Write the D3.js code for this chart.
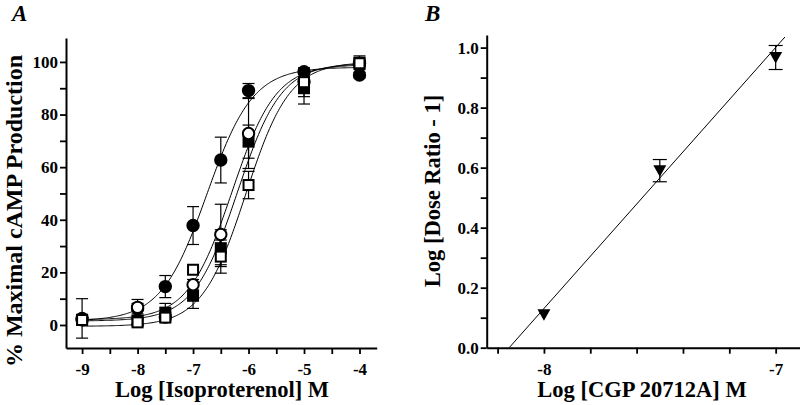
<!DOCTYPE html>
<html><head><meta charset="utf-8">
<script src="https://cdn.jsdelivr.net/npm/d3@7"></script>
<style>
body{margin:0;background:#fff;}
svg{display:block;}
text{font-family:"Liberation Serif","Times New Roman",serif;font-weight:bold;fill:#000;}
.tick text{font-size:17px !important;font-family:"Liberation Serif","Times New Roman",serif !important;font-weight:bold !important;}
</style></head><body>
<svg id="c" width="800" height="405"></svg>
<script>
// ---------- Panel A data ----------
const logIso = [-9, -8, -7.5, -7, -6.5, -6, -5, -4];
const filledCircle = [2.5, 6.2, 14.6, 37.8, 62.7, 89.1, 96.3, 95];
const filledCircleErr = [7.5, 2, 4.2, 7.2, 8.7, 2.7, 1, 1];
const openCircle = [2, 6.7, 3, 15.3, 34.4, 72.8, 92.5, 99.5];
const openCircleErr = [1, 3, 1, 2, 11.5, 13.3, 2, 1];
const filledSquare = [2, 1.5, 4.7, 11.1, 29.2, 69.7, 90, 99.7];
const filledSquareErr = [1, 1, 3.5, 4.8, 7, 6.3, 6, 2.6];
const openSquare = [1.9, 1, 2.8, 21, 26, 53.2, 92.3, 99.5];
const openSquareErr = [1, 1, 1, 1, 6.3, 5.2, 5.5, 1];
// fitted curve parameters: [bottom, top, logEC50, hill]
const fitFilledCircle = [1.5, 98, -6.75, 1.05];
const fitOpenCircle = [2, 99, -6.3, 1.1];
const fitFilledSquare = [1.5, 99.5, -6.2, 1.1];
const fitOpenSquare = [-0.5, 100, -6.05, 1.1];
const xTicksA = [-9, -8, -7, -6, -5, -4];
const yTicksA = [0, 20, 40, 60, 80, 100];

// ---------- Panel B data ----------
const logCGP = [-8, -7.5, -7];
const logDR = [0.11, 0.59, 0.967];
const logDRErr = [0, 0.037, 0.04];
const schildFit = [0.87, 8.15]; // slope, pA2
const schildRange = [-8.15, -6.96];
const xTicksB = [-8, -7];
const yTicksB = [0.0, 0.2, 0.4, 0.6, 0.8, 1.0];

const svg = d3.select("#c");

function styleAxis(g, isX){
  g.attr("font-family", null).attr("font-size", null);
  g.select(".domain").attr("stroke-width",2);
  g.selectAll(".tick line").attr("stroke-width",1.8);
  g.selectAll(".tick text").style("font-size","17px").style("font-weight","bold");
  if(isX) g.selectAll(".tick text").attr("dy","1.05em");
  else g.selectAll(".tick text").attr("x",-8);
}

// ===== Panel A =====
const xA = d3.scaleLinear().domain([-9.29, -3.69]).range([66, 376.7]);
const yA = d3.scaleLinear().domain([-8.75, 109.1]).range([348, 38]);
const gA = svg.append("g");

const axA = gA.append("g").attr("transform","translate(0,348)")
  .call(d3.axisBottom(xA).tickValues(d3.range(-9,-3.9,0.5)).tickSize(6).tickSizeOuter(0)
    .tickFormat(d => xTicksA.includes(d) ? String(d) : ""));
styleAxis(axA, true);
const ayA = gA.append("g").attr("transform","translate(66,0)")
  .call(d3.axisLeft(yA).tickValues(d3.range(0,101,10)).tickSize(6).tickSizeOuter(0)
    .tickFormat(d => yTicksA.includes(d) ? String(d) : ""));
styleAxis(ayA, false);

function logistic(p){ return x => p[0] + (p[1]-p[0])/(1+Math.pow(10,(p[2]-x)*p[3])); }
const xs = d3.range(-9, -3.999, 0.02);
[fitFilledCircle, fitOpenCircle, fitFilledSquare, fitOpenSquare].forEach(p => {
  const f = logistic(p);
  gA.append("path").datum(xs)
    .attr("d", d3.line().x(d => xA(d)).y(d => yA(f(d))))
    .attr("fill","none").attr("stroke","#000").attr("stroke-width",1);
});

function errBars(g, xsc, ysc, xv, yv, ev, cap){
  xv.forEach((x,i) => {
    const e = ev[i]; if(!e) return;
    const cx = xsc(x), y1 = ysc(yv[i]+e), y0 = ysc(yv[i]-e);
    g.append("line").attr("x1",cx).attr("x2",cx).attr("y1",y1).attr("y2",y0).attr("stroke","#000").attr("stroke-width",1.2);
    g.append("line").attr("x1",cx-cap).attr("x2",cx+cap).attr("y1",y1).attr("y2",y1).attr("stroke","#000").attr("stroke-width",1.2);
    g.append("line").attr("x1",cx-cap).attr("x2",cx+cap).attr("y1",y0).attr("y2",y0).attr("stroke","#000").attr("stroke-width",1.2);
  });
}
errBars(gA, xA, yA, logIso, filledSquare, filledSquareErr, 6);
errBars(gA, xA, yA, logIso, filledCircle, filledCircleErr, 6);
errBars(gA, xA, yA, logIso, openCircle, openCircleErr, 6);
errBars(gA, xA, yA, logIso, openSquare, openSquareErr, 6);

function squares(data, fill){
  gA.append("g").selectAll("rect").data(logIso).join("rect")
    .attr("x", d => xA(d)-5).attr("y", (d,i) => yA(data[i])-5)
    .attr("width",10).attr("height",10)
    .attr("fill",fill).attr("stroke","#000").attr("stroke-width",2);
}
function circles(data, fill){
  gA.append("g").selectAll("circle").data(logIso).join("circle")
    .attr("cx", d => xA(d)).attr("cy", (d,i) => yA(data[i])).attr("r",5.7)
    .attr("fill",fill).attr("stroke","#000").attr("stroke-width",2);
}
squares(filledSquare, "#000");
circles(filledCircle, "#000");
circles(openCircle, "#fff");
squares(openSquare, "#fff");

gA.append("text").attr("x", 222).attr("y", 397).attr("text-anchor","middle").attr("font-size",22.5)
  .text("Log [Isoproterenol] M");
gA.append("text").attr("transform","translate(22,211) rotate(-90)").attr("text-anchor","middle").attr("font-size",24)
  .text("% Maximal cAMP Production");
gA.append("text").attr("x", 12).attr("y", 21).attr("font-size",23).attr("font-style","italic").text("A");

// ===== Panel B =====
const xB = d3.scaleLinear().domain([-8.247, -6.895]).range([486.7, 800]);
const yB = d3.scaleLinear().domain([0, 1.042]).range([347.7, 35]);
const gB = svg.append("g");
const axB = gB.append("g").attr("transform","translate(0,347.7)")
  .call(d3.axisBottom(xB).tickValues(d3.range(-8.2,-6.95,0.2)).tickSize(6).tickSizeOuter(0)
    .tickFormat(d => xTicksB.some(t => Math.abs(t-d)<1e-6) ? String(Math.round(d)) : ""));
styleAxis(axB, true);
const ayB = gB.append("g").attr("transform","translate(486.7,0)")
  .call(d3.axisLeft(yB).tickValues(d3.range(0,1.01,0.1)).tickSize(6).tickSizeOuter(0)
    .tickFormat(d => yTicksB.some(t => Math.abs(t-d)<1e-6) ? d3.format(".1f")(d) : ""));
styleAxis(ayB, false);

gB.append("path").datum(schildRange)
  .attr("d", d3.line().x(d => xB(d)).y(d => yB(schildFit[0]*(d+schildFit[1]))))
  .attr("fill","none").attr("stroke","#000").attr("stroke-width",1);
errBars(gB, xB, yB, logCGP, logDR, logDRErr, 7);
gB.append("g").selectAll("path.tri").data(logCGP).join("path")
  .attr("transform",(d,i) => `translate(${xB(d)},${yB(logDR[i])})`)
  .attr("d","M-6.5,-5.5 L6.5,-5.5 L0,6 Z").attr("fill","#000");

gB.append("text").attr("x", 642).attr("y", 397).attr("text-anchor","middle").attr("font-size",22.5)
  .text("Log [CGP 20712A] M");
gB.append("text").attr("transform","translate(440,191) rotate(-90)").attr("text-anchor","middle").attr("font-size",22.5)
  .text("Log [Dose Ratio - 1]");
gB.append("text").attr("x", 425).attr("y", 21).attr("font-size",23).attr("font-style","italic").text("B");
</script></body></html>
